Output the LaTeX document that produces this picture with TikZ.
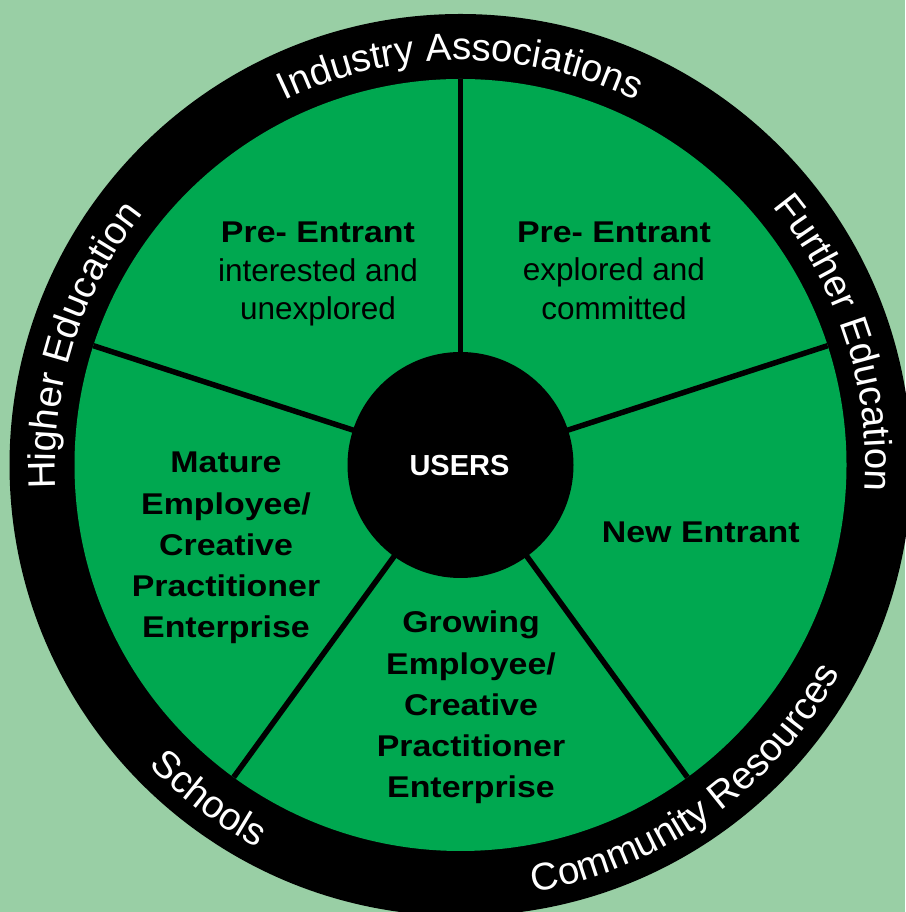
\documentclass[tikz,border=0pt]{standalone}
\usepackage{fontspec}
\setmainfont{Liberation Sans}
\newfontfamily\widesans[FakeStretch=1.13]{Liberation Sans}
\usetikzlibrary{decorations.text}

\definecolor{bgmint}{RGB}{153,207,165}
\definecolor{wheelgreen}{RGB}{0,168,80}

\newcommand{\stagehead}[1]{{\widesans\bfseries\fontsize{30}{38.7}\selectfont #1}}

\begin{document}
\begin{tikzpicture}[
  divider/.style={line width=5.5pt, draw=black},
  stagebox/.style={align=center, text=black,
    font=\widesans\bfseries\fontsize{30}{41.2}\selectfont},
  prebox/.style={align=center, text=black,
    font=\fontsize{31.5}{38.7}\selectfont},
  ringlabel/.style={decorate, decoration={text along path, text align=center,
    text color=white, text={|\fontsize{38.5}{40}\selectfont|#1}}}
]
\useasboundingbox (0,0) rectangle (905pt,912pt);
\fill[bgmint] (0,0) rectangle (905pt,912pt);

\begin{scope}[shift={(460.5pt,447pt)}]
  % outer ring and inner disc
  \fill[black] (0,0) circle[radius=451pt];
  \fill[wheelgreen] (0,0) circle[radius=386pt];

  % five sector dividers
  \coordinate (hub) at (0,0);
  \foreach \a/\n in {90/a,18/b,-54/c,-126/d,162/e}
    \coordinate (rim\n) at (\a:386pt);
  \foreach \n in {a,b,c,d,e}
    \draw[divider] (hub) -- (rim\n);

  % central hub
  \node[circle, fill=black, minimum size=226pt, inner sep=0pt] (users) at (hub) {};
  \node[anchor=base, text=white, font=\bfseries\fontsize{29}{32}\selectfont]
    (userslabel) at (-1pt,-11pt) {USERS};

  % sector labels
  \node[prebox] (preA) at (-142.5pt,191pt)
    {\stagehead{Pre- Entrant}\\interested and\\unexplored};
  \node[prebox] (preB) at (153.5pt,194.3pt)
    {\stagehead{Pre- Entrant}\\explored and\\committed};
  \node[stagebox, anchor=base] (newent) at (240.3pt,-77.3pt) {New Entrant};
  \node[stagebox] (growing) at (10.5pt,-242.5pt)
    {Growing\\Employee/\\Creative\\Practitioner\\Enterprise};
  \node[stagebox] (mature) at (-234.5pt,-83pt)
    {Mature\\Employee/\\Creative\\Practitioner\\Enterprise};

  % ring captions, upper ones clockwise, lower ones counter-clockwise
  \path[ringlabel={Industry Associations}]
    (140:405pt) arc[start angle=140, end angle=40, radius=405pt];
  \path[ringlabel={Further Education}]
    (63:405pt) arc[start angle=63, end angle=-27, radius=405pt];
  \path[ringlabel={Higher Education}]
    (207.5:405pt) arc[start angle=207.5, end angle=117.5, radius=405pt];
  \path[ringlabel={Schools}]
    (201:433pt) arc[start angle=201, end angle=265, radius=433pt];
  \path[ringlabel={Community Resources}]
    (270:433pt) arc[start angle=270, end angle=341, radius=433pt];
\end{scope}
\end{tikzpicture}
\end{document}
